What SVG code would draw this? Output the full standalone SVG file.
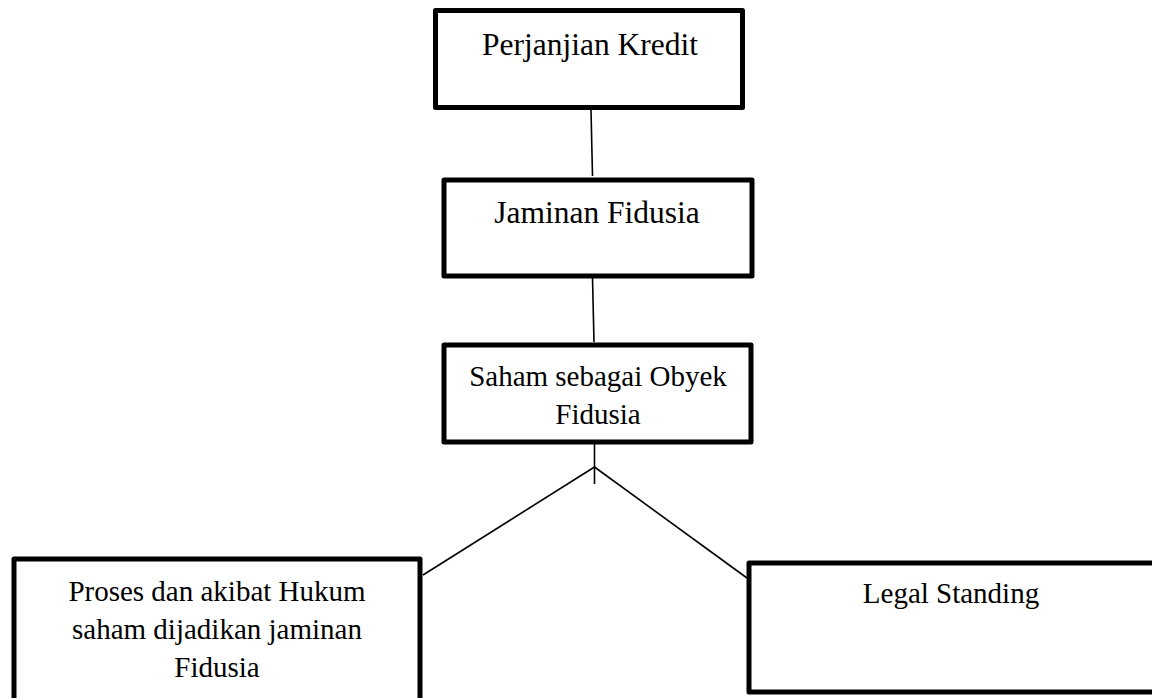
<svg xmlns="http://www.w3.org/2000/svg" width="1152" height="698" viewBox="0 0 1152 698">
<style>
.box{fill:#fff;stroke:#000;stroke-width:5;stroke-linejoin:round}
.t{font-family:"Liberation Serif","Times New Roman",serif;fill:#000;text-anchor:middle}
.c{stroke:#000;stroke-width:1.6;fill:none}
</style>
<rect width="1152" height="698" fill="#fff"/>
<g id="connectors">
<line class="c" x1="591" y1="110" x2="592.5" y2="176"/>
<line class="c" x1="592.5" y1="278" x2="594" y2="342"/>
<line class="c" x1="594.5" y1="444" x2="594.5" y2="484"/>
<line class="c" x1="594.5" y1="467" x2="423" y2="575"/>
<line class="c" x1="594.5" y1="467" x2="747" y2="578"/>
</g>
<g id="n1">
<rect class="box" x="435.5" y="10.5" width="307" height="97"/>
<text class="t" x="590" y="55" font-size="31.5">Perjanjian Kredit</text>
</g>
<g id="n2">
<rect class="box" x="444" y="180" width="308" height="96"/>
<text class="t" x="597" y="223" font-size="31.5">Jaminan Fidusia</text>
</g>
<g id="n3">
<rect class="box" x="444" y="345" width="307" height="97"/>
<text class="t" x="598" y="386" font-size="29">Saham sebagai Obyek</text>
<text class="t" x="598" y="424" font-size="29">Fidusia</text>
</g>
<g id="n4">
<rect class="box" x="14" y="559" width="406" height="145"/>
<text class="t" x="217" y="601" font-size="29">Proses dan akibat Hukum</text>
<text class="t" x="217" y="639" font-size="29">saham dijadikan jaminan</text>
<text class="t" x="217" y="677" font-size="29">Fidusia</text>
</g>
<g id="n5">
<rect class="box" x="749" y="563" width="410" height="129"/>
<text class="t" x="951" y="603" font-size="29">Legal Standing</text>
</g>
</svg>
